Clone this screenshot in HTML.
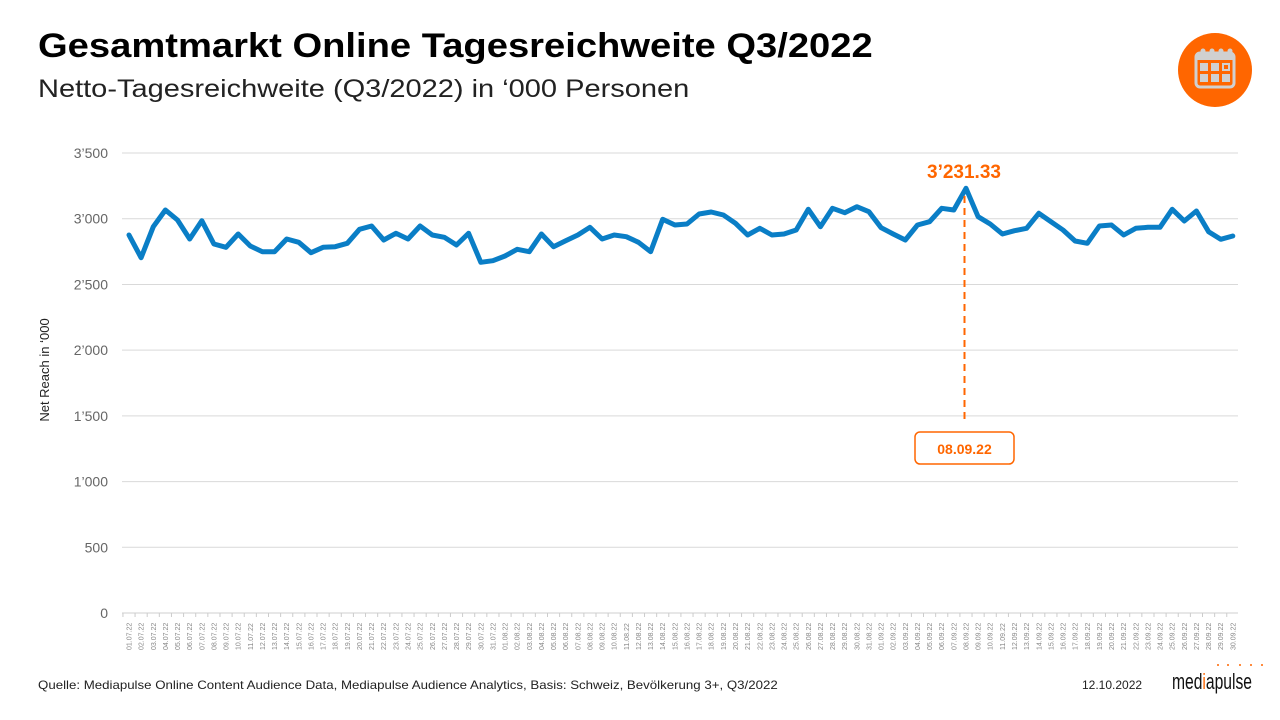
<!DOCTYPE html>
<html><head><meta charset="utf-8"><style>
body{margin:0;width:1280px;height:720px;background:#fff;font-family:"Liberation Sans",sans-serif;overflow:hidden;position:relative}
.t{position:absolute;left:38px;top:27px;font-size:34px;font-weight:bold;color:#000;white-space:nowrap;transform:scaleX(1.122);transform-origin:0 0}
.s{position:absolute;left:38px;top:75px;font-size:25px;color:#222;white-space:nowrap;transform:scaleX(1.16);transform-origin:0 0}
.f{position:absolute;top:678px;font-size:12px;color:#222;white-space:nowrap}
</style></head><body>
<div class="t">Gesamtmarkt Online Tagesreichweite Q3/2022</div>
<div class="s">Netto-Tagesreichweite (Q3/2022) in ‘000 Personen</div>
<div class="f" style="left:38px;transform:scaleX(1.105);transform-origin:0 0">Quelle: Mediapulse Online Content Audience Data, Mediapulse Audience Analytics, Basis: Schweiz, Bevölkerung 3+, Q3/2022</div>
<div class="f" style="left:1082px">12.10.2022</div>
<svg id="c" width="1280" height="720" style="position:absolute;left:0;top:0" font-family="Liberation Sans, sans-serif">
<circle cx="1215" cy="70" r="37" fill="#ff6600"/>
<rect x="1196" y="53" width="38" height="34" rx="4" fill="none" stroke="#d0d0d0" stroke-width="3"/>
<rect x="1196" y="53" width="38" height="7" fill="#d0d0d0"/>
<g fill="#d0d0d0"><circle cx="1203" cy="51" r="2.5"/><circle cx="1212" cy="51" r="2.5"/><circle cx="1221" cy="51" r="2.5"/><circle cx="1230" cy="51" r="2.5"/>
<rect x="1200" y="63" width="8" height="8"/><rect x="1211" y="63" width="8" height="8"/><rect x="1223" y="64" width="6" height="6" fill="none" stroke="#d0d0d0" stroke-width="2"/>
<rect x="1200" y="74" width="8" height="8"/><rect x="1211" y="74" width="8" height="8"/><rect x="1222" y="74" width="8" height="8"/></g>
<text x="1172" y="689" font-size="22" font-family="Liberation Sans Narrow, Liberation Sans, sans-serif" fill="#111" textLength="80" lengthAdjust="spacingAndGlyphs">med<tspan fill="#ff6600">i</tspan>apulse</text>
<g fill="#ff6600"><circle cx="1218" cy="665" r="1"/><circle cx="1228" cy="665" r="1"/><circle cx="1240" cy="665" r="1"/><circle cx="1251" cy="665" r="1"/><circle cx="1262" cy="665" r="1"/></g>
<text transform="translate(49,370) rotate(-90)" font-size="13" text-anchor="middle" fill="#222">Net Reach in ‘000</text>
<g id="g"></g>
<line x1="964.5" y1="196" x2="964.5" y2="422" stroke="#ff6600" stroke-width="2" stroke-dasharray="7,5"/>
<rect x="915" y="432" width="99" height="32" rx="5" fill="#fff" stroke="#ff6600" stroke-width="1.5"/>
<text x="964.5" y="454" font-size="14" font-weight="bold" fill="#ff6600" text-anchor="middle">08.09.22</text>
<text x="964" y="178" font-size="19" font-weight="bold" fill="#ff6600" text-anchor="middle">3’231.33</text>
</svg>
<script>
var g=document.getElementById('g'),h='';
var labs=["0","500","1’000","1’500","2’000","2’500","3’000","3’500"];
for(var i=0;i<8;i++){var y=613-i*65.71;h+='<line x1="122" x2="1238" y1="'+y+'" y2="'+y+'" stroke="'+(i?'#d9d9d9':'#cfcfcf')+'" stroke-width="1"/>';
h+='<text x="108" y="'+(y+5)+'" font-size="14" fill="#666" text-anchor="end">'+labs[i]+'</text>';}
var a=[225,293,200,150,180,237,182,252,262,222,258,275,275,237,247,278,262,260,250,208,198,240,220,237,198,225,232,255,220,307,302,288,268,275,222,260,242,225,202,237,225,230,247,275];
var b=[178,195,192,162,156,165,190,225,205,225,222,210,148,200,145,158,140,155,203,222,240,195,185,145,150,85,170,192,222,212,205,160,185,210,243,250,198,195,225,205,202,202,148,183,153,215,238,228];
var v=a.concat(b),p='',st=12.13;
for(var i=0;i<v.length;i++){var x=129+i*st,y=160+v[i]/3;p+=(i?'L':'M')+x.toFixed(1)+','+y.toFixed(1);}
var d1=[31,31,30],m=['07','08','09'],k=0;
for(var mi=0;mi<3;mi++)for(var d=1;d<=d1[mi];d++){var x=129+k*st;
h+='<line x1="'+(x-st/2)+'" x2="'+(x-st/2)+'" y1="613" y2="617" stroke="#ccc"/>';
h+='<text transform="translate('+(x+2.5)+',650) rotate(-90)" font-size="7" fill="#888">'+(d<10?'0'+d:d)+'.'+m[mi]+'.22</text>';k++;}
h+='<path d="'+p+'" fill="none" stroke="#0a7ec6" stroke-width="5" stroke-linejoin="round" stroke-linecap="round"/>';
g.innerHTML=h;
</script>
</body></html>
